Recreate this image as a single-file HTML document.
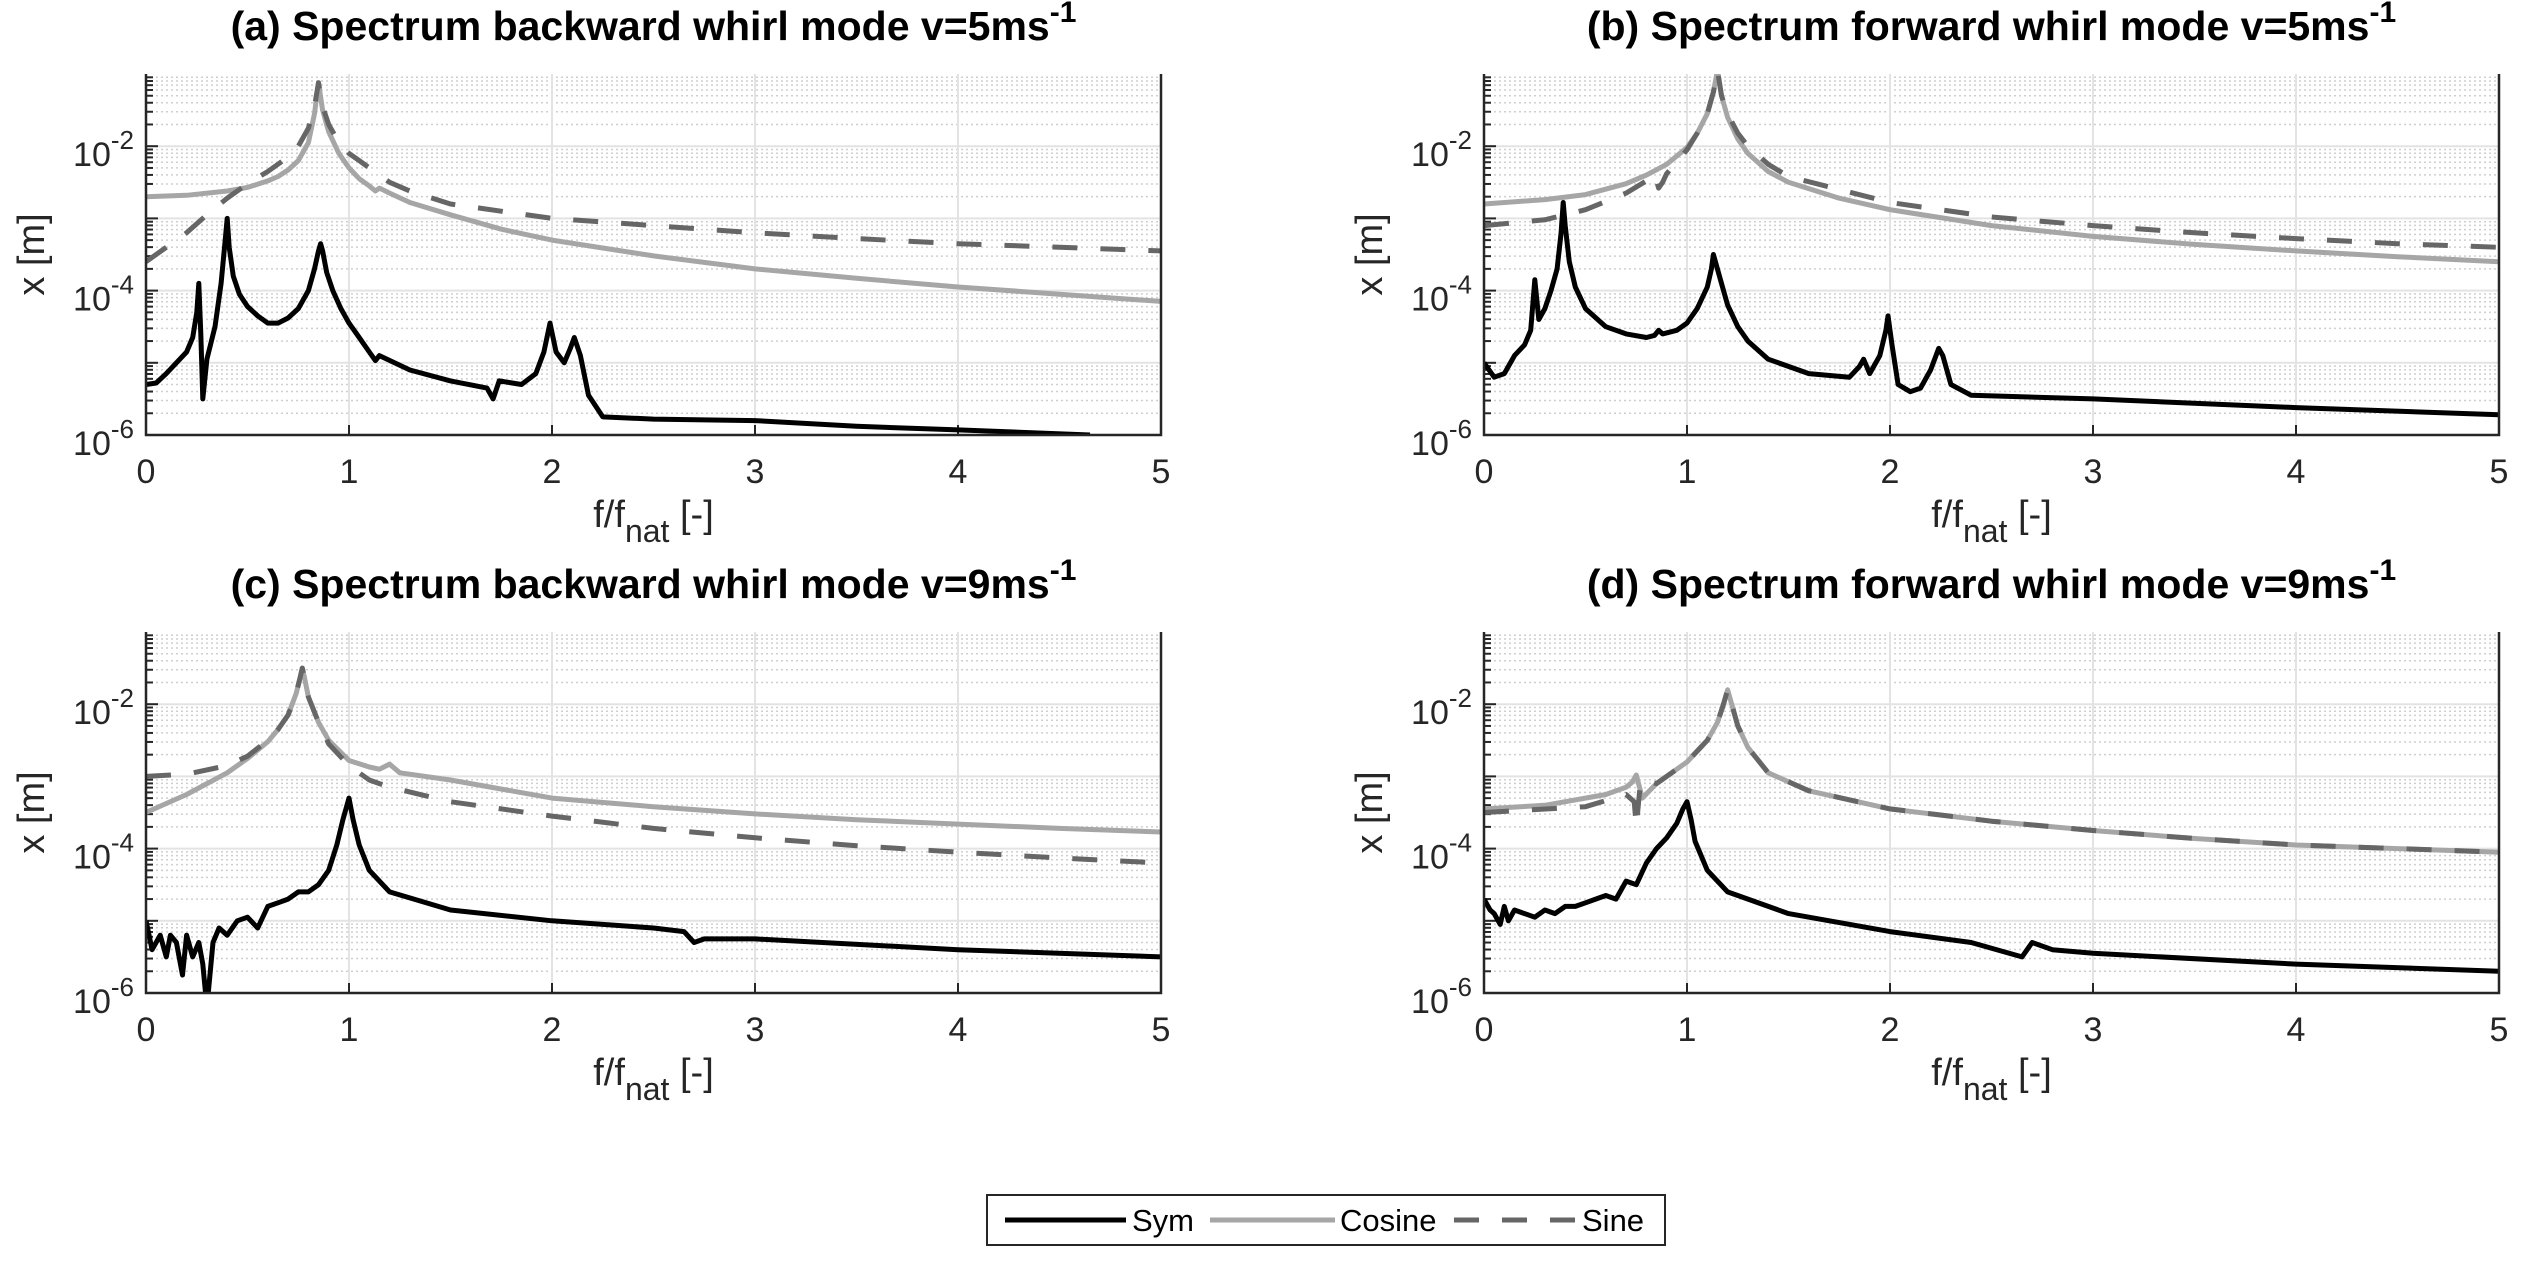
<!DOCTYPE html>
<html><head><meta charset="utf-8"><style>
html,body{margin:0;padding:0;background:#fff;}
svg{display:block;font-family:"Liberation Sans",Arial,sans-serif;}
</style></head><body>
<svg id="fig" width="2529" height="1265" viewBox="0 0 2529 1265" xmlns="http://www.w3.org/2000/svg">
<g>
<rect x="987" y="1195" width="678" height="50" fill="#fff" stroke="#262626" stroke-width="2"/>
<line x1="1005" y1="1220" x2="1126" y2="1220" stroke="#000" stroke-width="5"/>
<text x="1132" y="1231" font-size="31">Sym</text>
<line x1="1210" y1="1220" x2="1335" y2="1220" stroke="#a6a6a6" stroke-width="5"/>
<text x="1340" y="1231" font-size="31">Cosine</text>
<line x1="1454" y1="1220" x2="1575" y2="1220" stroke="#666" stroke-width="5" stroke-dasharray="25,23"/>
<text x="1582" y="1231" font-size="31">Sine</text>
</g>
</svg>
<script>
// data: x = f/f_nat, y = log10(x [m])
const xTicks=[0,1,2,3,4,5];
const yTickExps=[-6,-4,-2];
const titles=["(a) Spectrum backward whirl mode v=5ms","(b) Spectrum forward whirl mode v=5ms","(c) Spectrum backward whirl mode v=9ms","(d) Spectrum forward whirl mode v=9ms"];

const aCosX=[0,0.2,0.4,0.5,0.6,0.65,0.7,0.75,0.8,0.83,0.85,0.87,0.9,0.95,1.0,1.05,1.1,1.13,1.15,1.2,1.3,1.5,1.75,2,2.5,3,3.5,4,4.5,5];
const aCosY=[-2.7,-2.68,-2.62,-2.57,-2.48,-2.42,-2.33,-2.2,-1.95,-1.55,-1.12,-1.5,-1.8,-2.1,-2.3,-2.45,-2.55,-2.62,-2.58,-2.65,-2.78,-2.95,-3.15,-3.3,-3.52,-3.7,-3.83,-3.95,-4.05,-4.15];
const aSinX=[0,0.1,0.2,0.3,0.4,0.5,0.6,0.7,0.75,0.8,0.83,0.85,0.87,0.9,0.95,1.0,1.05,1.1,1.15,1.2,1.3,1.5,2,2.5,3,3.5,4,4.5,5];
const aSinY=[-3.6,-3.4,-3.2,-2.95,-2.72,-2.52,-2.35,-2.15,-2.0,-1.75,-1.45,-1.12,-1.45,-1.7,-1.95,-2.1,-2.2,-2.3,-2.4,-2.5,-2.62,-2.8,-3.0,-3.1,-3.2,-3.28,-3.35,-3.4,-3.45];
const aSymX=[0,0.05,0.1,0.15,0.2,0.23,0.25,0.26,0.27,0.28,0.3,0.34,0.37,0.39,0.4,0.41,0.43,0.46,0.5,0.55,0.6,0.65,0.7,0.75,0.8,0.83,0.85,0.86,0.87,0.89,0.92,0.96,1.0,1.05,1.1,1.13,1.15,1.3,1.5,1.68,1.71,1.74,1.85,1.92,1.96,1.99,2.02,2.06,2.09,2.11,2.14,2.18,2.25,2.5,3,3.5,4,4.65];
const aSymY=[-5.3,-5.28,-5.15,-5.0,-4.85,-4.65,-4.3,-3.9,-4.6,-5.5,-4.95,-4.5,-3.9,-3.3,-3.0,-3.4,-3.8,-4.05,-4.22,-4.35,-4.45,-4.45,-4.38,-4.25,-4.0,-3.7,-3.45,-3.35,-3.45,-3.75,-4.0,-4.25,-4.45,-4.65,-4.85,-4.97,-4.9,-5.1,-5.25,-5.35,-5.5,-5.25,-5.3,-5.15,-4.85,-4.45,-4.85,-5.0,-4.8,-4.65,-4.9,-5.45,-5.75,-5.78,-5.8,-5.88,-5.93,-6.0];

const bCosX=[0,0.3,0.5,0.7,0.8,0.9,1.0,1.05,1.1,1.13,1.15,1.17,1.2,1.25,1.3,1.4,1.5,1.75,2,2.5,3,3.5,4,4.5,5];
const bCosY=[-2.8,-2.74,-2.67,-2.52,-2.4,-2.25,-2.02,-1.82,-1.55,-1.25,-0.95,-1.3,-1.6,-1.9,-2.1,-2.35,-2.5,-2.72,-2.88,-3.1,-3.25,-3.36,-3.45,-3.53,-3.6];
const bSinX=[0,0.3,0.5,0.7,0.8,0.84,0.86,0.88,0.9,1.0,1.05,1.1,1.13,1.15,1.17,1.2,1.25,1.3,1.4,1.5,2,2.5,3,3.5,4,4.5,5];
const bSinY=[-3.1,-3.02,-2.88,-2.65,-2.48,-2.38,-2.58,-2.5,-2.38,-2.05,-1.82,-1.55,-1.25,-0.95,-1.3,-1.55,-1.82,-2.0,-2.25,-2.42,-2.78,-2.98,-3.1,-3.2,-3.28,-3.35,-3.4];
const bSymX=[0,0.05,0.1,0.15,0.2,0.23,0.25,0.27,0.3,0.33,0.36,0.38,0.39,0.4,0.42,0.45,0.5,0.6,0.7,0.8,0.84,0.86,0.88,0.95,1.0,1.05,1.1,1.12,1.13,1.14,1.17,1.2,1.25,1.3,1.4,1.6,1.8,1.85,1.87,1.9,1.95,1.98,1.99,2.01,2.04,2.1,2.15,2.2,2.24,2.26,2.3,2.4,3,4,5];
const bSymY=[-5.0,-5.2,-5.15,-4.9,-4.75,-4.55,-3.85,-4.4,-4.25,-4.0,-3.7,-3.2,-2.78,-3.1,-3.6,-3.95,-4.25,-4.5,-4.6,-4.65,-4.62,-4.55,-4.6,-4.55,-4.45,-4.25,-3.95,-3.7,-3.5,-3.6,-3.9,-4.2,-4.5,-4.7,-4.95,-5.15,-5.2,-5.05,-4.95,-5.15,-4.9,-4.55,-4.35,-4.75,-5.3,-5.4,-5.35,-5.1,-4.8,-4.9,-5.3,-5.45,-5.5,-5.62,-5.72];

const cCosX=[0,0.2,0.4,0.5,0.6,0.65,0.7,0.74,0.76,0.77,0.78,0.8,0.85,0.9,1.0,1.1,1.15,1.2,1.25,1.5,2,2.5,3,3.5,4,4.5,5];
const cCosY=[-3.5,-3.25,-2.95,-2.75,-2.52,-2.35,-2.15,-1.85,-1.62,-1.5,-1.62,-1.9,-2.25,-2.5,-2.78,-2.87,-2.9,-2.83,-2.95,-3.05,-3.3,-3.42,-3.52,-3.6,-3.66,-3.72,-3.77];
const cSinX=[0,0.2,0.4,0.5,0.6,0.65,0.7,0.74,0.76,0.77,0.78,0.8,0.85,0.9,1.0,1.1,1.2,1.5,2,2.5,3,3.5,4,4.5,5];
const cSinY=[-3.0,-2.97,-2.85,-2.72,-2.5,-2.35,-2.15,-1.85,-1.62,-1.5,-1.62,-1.9,-2.25,-2.55,-2.85,-3.05,-3.15,-3.35,-3.55,-3.72,-3.85,-3.96,-4.05,-4.13,-4.2];
const cSymX=[0,0.03,0.07,0.1,0.12,0.15,0.18,0.2,0.23,0.26,0.28,0.3,0.33,0.36,0.4,0.45,0.5,0.55,0.6,0.65,0.7,0.75,0.8,0.85,0.9,0.94,0.97,1.0,1.02,1.05,1.1,1.2,1.5,2,2.5,2.65,2.7,2.75,3,4,5];
const cSymY=[-5.0,-5.4,-5.2,-5.5,-5.2,-5.3,-5.75,-5.2,-5.5,-5.3,-5.6,-6.2,-5.3,-5.1,-5.2,-5.0,-4.95,-5.1,-4.8,-4.75,-4.7,-4.6,-4.6,-4.5,-4.3,-3.95,-3.6,-3.3,-3.6,-3.95,-4.3,-4.6,-4.85,-5.0,-5.1,-5.15,-5.3,-5.25,-5.25,-5.4,-5.5];

const dCosX=[0,0.3,0.6,0.7,0.73,0.75,0.78,0.85,1.0,1.1,1.15,1.18,1.2,1.22,1.25,1.3,1.4,1.6,2,2.5,3,3.5,4,4.5,5];
const dCosY=[-3.45,-3.4,-3.25,-3.15,-3.08,-2.98,-3.3,-3.1,-2.8,-2.5,-2.25,-2.0,-1.8,-2.0,-2.3,-2.6,-2.95,-3.2,-3.45,-3.62,-3.75,-3.86,-3.95,-4.0,-4.05];
const dSinX=[0,0.5,0.7,0.74,0.75,0.77,0.78,0.85,1.0,1.1,1.15,1.18,1.2,1.22,1.25,1.3,1.4,1.6,2,2.5,3,3.5,4,4.5,5];
const dSinY=[-3.5,-3.42,-3.25,-3.35,-3.7,-3.1,-3.05,-3.1,-2.8,-2.5,-2.25,-2.0,-1.8,-2.0,-2.3,-2.6,-2.95,-3.2,-3.45,-3.62,-3.75,-3.86,-3.95,-4.0,-4.05];
const dSymX=[0,0.03,0.05,0.08,0.1,0.12,0.15,0.2,0.25,0.3,0.35,0.4,0.45,0.5,0.55,0.6,0.65,0.7,0.75,0.8,0.85,0.9,0.95,0.98,1.0,1.02,1.04,1.1,1.2,1.5,2.0,2.4,2.65,2.7,2.8,3,4,5];
const dSymY=[-4.7,-4.85,-4.9,-5.05,-4.8,-5.0,-4.85,-4.9,-4.95,-4.85,-4.9,-4.8,-4.8,-4.75,-4.7,-4.65,-4.7,-4.45,-4.5,-4.2,-4.0,-3.85,-3.65,-3.45,-3.35,-3.6,-3.9,-4.3,-4.6,-4.9,-5.15,-5.3,-5.5,-5.3,-5.4,-5.45,-5.6,-5.7];

const panels=[
 {L:146,T:74,sx:[aSymX,aCosX,aSinX],sy:[aSymY,aCosY,aSinY]},
 {L:1484,T:74,sx:[bSymX,bCosX,bSinX],sy:[bSymY,bCosY,bSinY]},
 {L:146,T:632,sx:[cSymX,cCosX,cSinX],sy:[cSymY,cCosY,cSinY]},
 {L:1484,T:632,sx:[dSymX,dCosX,dSinX],sy:[dSymY,dCosY,dSinY]}
];
const W=1015,H=361,YMIN=-6,YMAX=-1;
const NS="http://www.w3.org/2000/svg";
const svg=document.getElementById('fig');
function mk(t,a,p){const e=document.createElementNS(NS,t);for(const k in a)e.setAttribute(k,a[k]);(p||svg).appendChild(e);return e;}
const sNames=['sym-line','cosine-line','sine-line'];
const sStyle=[{stroke:'#000','stroke-width':5},{stroke:'#a6a6a6','stroke-width':5},{stroke:'#666','stroke-width':5,'stroke-dasharray':'25,23'}];
panels.forEach((p,i)=>{
 const sx=v=>p.L+v/5*W, sy=v=>p.T+H-(v-YMIN)/(YMAX-YMIN)*H;
 const g=mk('g',{});
 
 
 const grid=mk('g',{},g);
 
 
 for(let e=YMIN;e<YMAX;e++){for(let m=2;m<=9;m++){const y=sy(e+Math.log10(m));
  mk('line',{x1:p.L,x2:p.L+W,y1:y,y2:y,stroke:'#cfcfcf','stroke-width':1.5,'stroke-dasharray':'2,3'},grid);
  mk('line',{x1:p.L,x2:p.L+7,y1:y,y2:y,stroke:'#262626','stroke-width':2},grid);}}
 for(let e=YMIN+1;e<YMAX;e++){const y=sy(e);mk('line',{x1:p.L,x2:p.L+W,y1:y,y2:y,stroke:'#e3e3e3','stroke-width':2},grid);mk('line',{x1:p.L,x2:p.L+12,y1:y,y2:y,stroke:'#262626','stroke-width':2},grid);}
 xTicks.forEach(t=>{const x=sx(t);if(t>0&&t<5)mk('line',{x1:x,x2:x,y1:p.T,y2:p.T+H,stroke:'#e3e3e3','stroke-width':2},grid);
  mk('line',{x1:x,x2:x,y1:p.T+H,y2:p.T+H-10,stroke:'#262626','stroke-width':2},grid);
  const tl=mk('text',{x:x,y:p.T+H+48,'font-size':34,'text-anchor':'middle',fill:'#262626'},g);tl.textContent=t;
  
  });
 yTickExps.forEach(e=>{const y=sy(e);
  const tl=mk('text',{x:p.L-12,y:y+20,'font-size':34,'text-anchor':'end',fill:'#262626'},g);
  
  
  const a=mk('tspan',{},tl);a.textContent='10';const b=mk('tspan',{'font-size':26,dy:-17},tl);b.textContent=String(e);});
 const cid='clip'+i;const cp=mk('clipPath',{id:cid},g);mk('rect',{x:p.L,y:p.T,width:W,height:H},cp);
 [1,2,0].forEach(k=>{const pts=p.sx[k].map((v,j)=>sx(v).toFixed(1)+','+sy(p.sy[k][j]).toFixed(1)).join(' ');
  const pl=mk('polyline',Object.assign({points:pts,fill:'none','stroke-linejoin':'round','clip-path':'url(#'+cid+')'},sStyle[k]),g);
  
  });
 const ax=mk('path',{d:`M${p.L},${p.T} V${p.T+H} H${p.L+W} V${p.T}`,fill:'none',stroke:'#262626','stroke-width':2.5},g);
 
 
 const tt=mk('text',{x:p.L+W/2,y:p.T-34,'font-size':41,'font-weight':'bold','text-anchor':'middle'},g);
 
 
 const t1=mk('tspan',{},tt);t1.textContent=titles[i];const t2=mk('tspan',{'font-size':30,dy:-18},tt);t2.textContent='-1';
 const xl=mk('text',{x:p.L+W/2,y:p.T+H+92,'font-size':38,'text-anchor':'middle',fill:'#262626'},g);
 
 
 const x1=mk('tspan',{},xl);x1.textContent='f/f';const x2=mk('tspan',{dy:15,'font-size':32},xl);x2.textContent='nat';const x3=mk('tspan',{dy:-15},xl);x3.textContent=' [-]';
 const yl=mk('text',{x:0,y:0,'font-size':38,'text-anchor':'middle',fill:'#262626',transform:`translate(${p.L-102},${p.T+H/2}) rotate(-90)`},g);
 
 
 yl.textContent='x [m]';
});
</script>
</body></html>
